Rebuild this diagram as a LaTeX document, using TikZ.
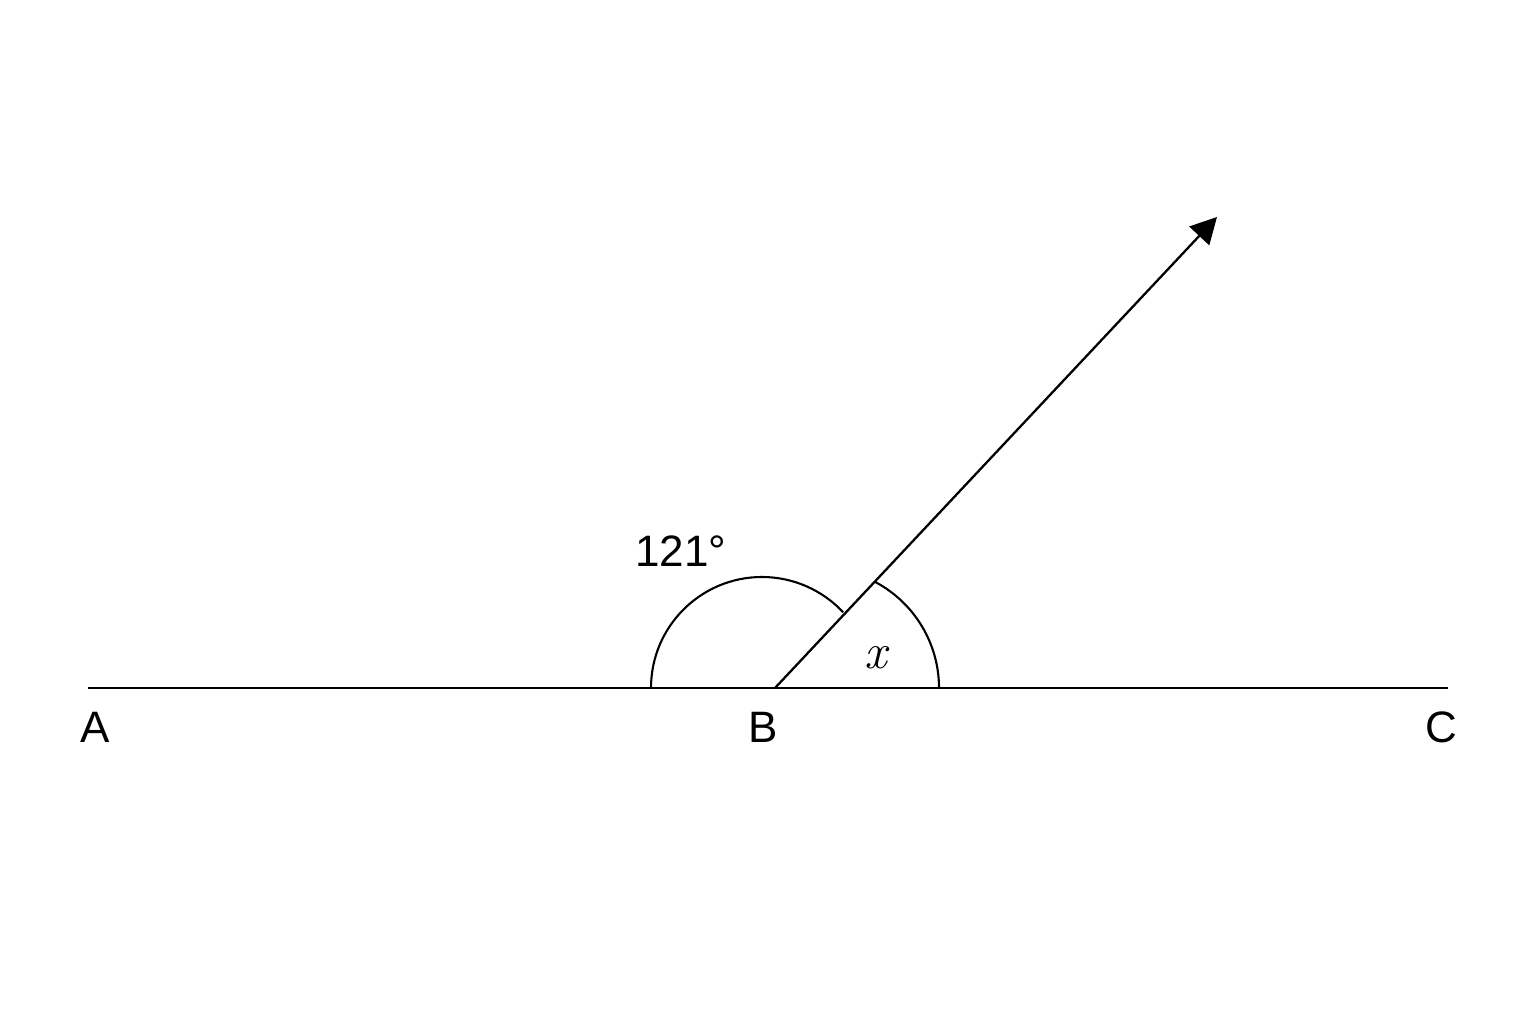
\documentclass[tikz,border=0pt]{standalone}
\usepackage{fontspec}
\setmainfont{Liberation Sans}
\newfontfamily\mathlikefont{Latin Modern Roman}
\usetikzlibrary{arrows.meta}
\begin{document}
\begin{tikzpicture}[x=1pt,y=1pt,
  lineseg/.style={line width=2.3pt},
  arcline/.style={line width=2.1pt},
  lbl/.style={font=\fontsize{44}{48}\selectfont, inner sep=0pt}]
\useasboundingbox (0,0) rectangle (1536,1024);
\coordinate (A) at (88,336);
\coordinate (C) at (1448,336);
\coordinate (B) at (775,336);
\coordinate (T) at (1217,807);
\draw[lineseg] (A) -- (C);
\draw[lineseg,-{Triangle[length=26pt,width=27pt]}] (B) -- (T);
\draw[arcline] (651,336) arc[start angle=180,end angle=43,radius=111];
\draw[arcline] (939,336) arc[start angle=0,end angle=62,radius=120];
\node[lbl] (la) at (95,297) {A};
\node[lbl] (lb) at (763,297) {B};
\node[lbl] (lc) at (1441,297) {C};
\node[lbl] (ang) at (681,473) {121°};
\node[inner sep=0pt,font=\mathlikefont\itshape\fontsize{50}{54}\selectfont] (x) at (876,366) {x};
\end{tikzpicture}
\end{document}
